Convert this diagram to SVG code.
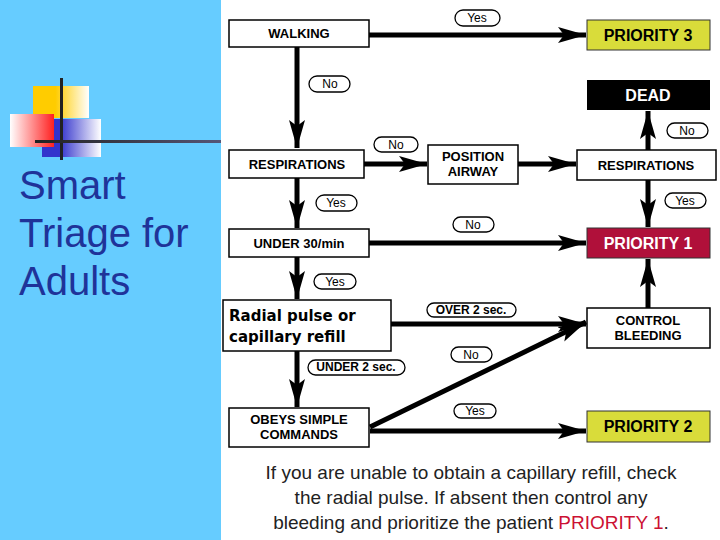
<svg xmlns="http://www.w3.org/2000/svg" width="720" height="540" viewBox="0 0 720 540">
<defs>
<marker id="ah" markerUnits="userSpaceOnUse" markerWidth="30" markerHeight="20" refX="28" refY="10" orient="auto"><path d="M0,2 L28,10 L0,18 L6,10 Z" fill="#000"/></marker>
<linearGradient id="gy" x1="0" x2="1"><stop offset="0.4" stop-color="#FFCC00"/><stop offset="1" stop-color="#fff"/></linearGradient>
<linearGradient id="gp" x1="1" x2="0"><stop offset="0" stop-color="#FF2020"/><stop offset="1" stop-color="#fff"/></linearGradient>
<linearGradient id="gb" x1="0" x2="1"><stop offset="0.3" stop-color="#3333CC"/><stop offset="1" stop-color="#fff"/></linearGradient>
<linearGradient id="gl" x1="0" x2="1"><stop offset="0" stop-color="#222"/><stop offset="1" stop-color="#557"/></linearGradient>
</defs>
<style>
.b{fill:#fff;stroke:#000;stroke-width:1.5}
.t{font-family:"Liberation Sans",Arial,sans-serif;font-weight:bold;font-size:13px;text-anchor:middle}
.pt{font-family:"Liberation Sans",Arial,sans-serif;font-weight:bold;font-size:16px;text-anchor:middle}
.p{fill:#fff;stroke:#000;stroke-width:1.3}
.l{font-family:"Liberation Sans",Arial,sans-serif;font-size:12px;text-anchor:middle}
.c{stroke:#000;stroke-width:5;fill:none;marker-end:url(#ah)}
.f{font-family:"Liberation Sans",Arial,sans-serif;font-size:19px;text-anchor:middle;fill:#222}
</style>
<rect width="720" height="540" fill="#fff"/>
<rect width="221" height="540" fill="#66CCFF"/>
<g id="logo">
<rect x="33" y="86" width="56" height="32" fill="url(#gy)"/>
<rect x="42" y="119" width="59" height="38" fill="url(#gb)"/>
<rect x="10" y="114" width="44" height="33" fill="url(#gp)"/>
<rect x="60" y="78" width="3" height="82" fill="#222"/>
<rect x="35" y="140" width="186" height="3" fill="url(#gl)"/>
</g>
<g id="title" font-family="Arial,'Liberation Sans',sans-serif" font-size="40" fill="#1F3399">
<text x="19" y="199">Smart</text><text x="19" y="247">Triage for</text><text x="19" y="295">Adults</text>
</g>
<g id="connectors">
<path class="c" d="M369,35 H586"/>
<path class="c" d="M297,47 V148"/>
<path class="c" d="M364,164 H427"/>
<path class="c" d="M518,164 H576"/>
<path class="c" d="M648,150 V111"/>
<path class="c" d="M297,178 V228"/>
<path class="c" d="M648,180 V227"/>
<path class="c" d="M369,243 H586"/>
<path class="c" d="M297,257 V299"/>
<path class="c" d="M391,324 H586"/>
<path class="c" d="M297,351 V407"/>
<path class="c" d="M370,427 L586,322"/>
<path class="c" d="M370,431 H586"/>
<path class="c" d="M648,308 V259"/>
</g>
<g id="walking"><rect class="b" x="229" y="20" width="140" height="27"/><text class="t" x="299" y="38">WALKING</text></g>
<g id="p3"><rect x="587" y="20" width="123" height="30" fill="#D9DC3A" stroke="#333"/><text class="pt" x="648" y="41">PRIORITY 3</text></g>
<g id="dead"><rect x="587" y="80" width="123" height="30" fill="#000"/><text class="pt" x="648" y="101" fill="#fff">DEAD</text></g>
<g id="resp1"><rect class="b" x="229" y="150" width="135" height="28"/><text class="t" x="297" y="169">RESPIRATIONS</text></g>
<g id="pos"><rect class="b" x="428" y="145" width="90" height="39"/><text class="t" x="473" y="161">POSITION</text><text class="t" x="473" y="176">AIRWAY</text></g>
<g id="resp2"><rect class="b" x="577" y="150" width="139" height="30"/><text class="t" x="646" y="170">RESPIRATIONS</text></g>
<g id="under30"><rect class="b" x="229" y="229" width="140" height="28"/><text class="t" x="299" y="248">UNDER 30/min</text></g>
<g id="p1"><rect x="587" y="228" width="123" height="30" fill="#B0103A" stroke="#333"/><text class="pt" x="648" y="249" fill="#fff">PRIORITY 1</text></g>
<g id="radial"><rect class="b" x="223" y="300" width="168" height="51"/>
<text x="229" y="321" font-family="'DejaVu Sans',sans-serif" font-size="15" font-weight="bold">Radial pulse or</text><text x="229" y="342" font-family="'DejaVu Sans',sans-serif" font-size="15" font-weight="bold">capillary refill</text></g>
<g id="bleed"><rect class="b" x="587" y="308" width="123" height="40"/><text class="t" x="648" y="325">CONTROL</text><text class="t" x="648" y="340">BLEEDING</text></g>
<g id="obeys"><rect class="b" x="229" y="408" width="140" height="39"/><text class="t" x="299" y="424">OBEYS SIMPLE</text><text class="t" x="299" y="439">COMMANDS</text></g>
<g id="p2"><rect x="587" y="411" width="123" height="31" fill="#D9DC3A" stroke="#333"/><text class="pt" x="648" y="432">PRIORITY 2</text></g>
<g id="labels">
<rect class="p" x="455" y="10" width="45" height="16" rx="8"/><text class="l" x="477" y="22">Yes</text>
<rect class="p" x="309" y="76" width="41" height="16" rx="8"/><text class="l" x="330" y="88">No</text>
<rect class="p" x="374" y="137" width="44" height="15" rx="7.5"/><text class="l" x="396" y="149">No</text>
<rect class="p" x="667" y="123" width="41" height="15" rx="7.5"/><text class="l" x="687" y="135">No</text>
<rect class="p" x="316" y="195" width="41" height="16" rx="8"/><text class="l" x="336" y="207">Yes</text>
<rect class="p" x="665" y="193" width="41" height="15" rx="7.5"/><text class="l" x="685" y="205">Yes</text>
<rect class="p" x="453" y="217" width="41" height="15" rx="7.5"/><text class="l" x="473" y="229">No</text>
<rect class="p" x="314" y="274" width="42" height="15" rx="7.5"/><text class="l" x="335" y="286">Yes</text>
<rect class="p" x="427" y="303" width="89" height="14" rx="7"/><text class="l" x="471" y="314" font-size="10" font-weight="bold">OVER 2 sec.</text>
<rect class="p" x="451" y="347" width="41" height="15" rx="7.5"/><text class="l" x="471" y="359">No</text>
<rect class="p" x="308" y="360" width="97" height="15" rx="7.5"/><text class="l" x="356" y="371" font-size="10" font-weight="bold">UNDER 2 sec.</text>
<rect class="p" x="454" y="404" width="42" height="14" rx="7"/><text class="l" x="475" y="415">Yes</text>
</g>
<g id="note">
<text class="f" x="471" y="479">If you are unable to obtain a capillary refill, check</text>
<text class="f" x="471" y="504">the radial pulse. If absent then control any</text>
<text class="f" x="471" y="529">bleeding and prioritize the patient <tspan fill="#CC1133">PRIORITY 1</tspan>.</text>
</g>
</svg>
